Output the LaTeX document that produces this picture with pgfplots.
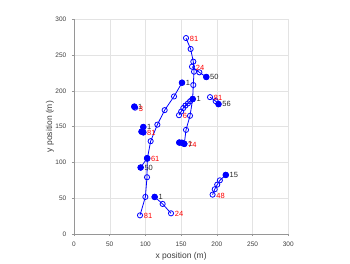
\documentclass[border=0pt]{standalone}
\usepackage{pgfplots}
\pgfplotsset{compat=1.18}
\usepackage{fontspec}
\setmainfont{Liberation Sans}
\definecolor{mblue}{RGB}{0,0,255}
\definecolor{mred}{RGB}{255,0,0}
\definecolor{axgray}{RGB}{150,150,150}
\definecolor{txgray}{RGB}{60,60,60}
\begin{document}
\begin{tikzpicture}
\useasboundingbox (-74pt,-29pt) rectangle (276pt,234pt);
\begin{axis}[
  at={(0pt,0pt)}, anchor=south west,
  scale only axis, width=214.3pt, height=214.7pt,
  xmin=0, xmax=300, ymin=0, ymax=300,
  xtick={0,50,...,300}, ytick={0,50,...,300},
  grid=major, grid style={color=black!11, line width=0.4pt},
  axis x line*=bottom, axis y line*=left,
  axis line style={color=axgray, line width=0.9pt, -},
  tick align=outside, major tick length=2.2pt,
  tick style={color=axgray, line width=0.5pt},
  /pgf/number format/assume math mode=true,
  ticklabel style={font=\fontsize{6.5}{7}\selectfont, text=txgray},
  xticklabel style={yshift=-2.5pt},
  yticklabel style={xshift=-2pt},
  xlabel={x position (m)}, ylabel={y position (m)},
  label style={font=\fontsize{8.5}{9}\selectfont, text=txgray},
  xlabel style={at={(axis description cs:0.5,-0.106)}, anchor=center},
  ylabel style={at={(axis description cs:-0.112,0.5)}, anchor=center, rotate=0},
  every axis plot/.append style={line width=0.8pt},
]
% --- tracks: lines with open circles ---
\addplot[mblue, mark=o, mark size=2.6pt] coordinates {
(151.2,211.4) (140,192.2) (126.9,173.1) (116.7,152.8) (107.3,129.7) (102.6,105) (102.2,79.3) (99.9,51.8) (92.4,26.1)};
\addplot[mblue, mark=o, mark size=2.6pt] coordinates {
(154.4,126) (156.8,145.5) (162.4,165.2) (166.1,188.5) (167,208.2) (168,226.8) (167,240.8) (163.3,258.5) (156.8,273.8)};
\addplot[mblue, mark=o, mark size=2.6pt] coordinates {
(166.2,188.8) (162.5,185.5) (159.5,182.5) (156,179.5) (153,176) (150,171) (147,166)};
\addplot[mblue, mark=o, mark size=2.6pt] coordinates {
(185.2,219.4) (175.5,225.9) (165.2,233.8)};
\addplot[mblue, mark=o, mark size=2.6pt] coordinates {
(202.3,181.5) (198.3,185.7) (190.4,191.2)};
\addplot[mblue, mark=o, mark size=2.6pt] coordinates {
(212.5,82.5) (204.2,75) (200.5,69) (197,62.5) (194,55)};
\addplot[mblue, mark=o, mark size=2.6pt] coordinates {
(112.9,51.8) (124.1,42) (135.8,28.9)};
\addplot[mblue, mark=o, mark size=2.6pt] coordinates {
(93.3,92.9) (102.4,106)};
\addplot[mblue, mark=o, mark size=2.6pt] coordinates {
(97,149.5) (94.5,143) (97,142)};
\addplot[mblue, mark=o, mark size=2.6pt] coordinates {
(84.4,178) (85.5,176.5)};
\addplot[mblue, mark=o, mark size=2.6pt] coordinates {
(147.4,127.8) (151,127.5) (154.4,126)};
% --- filled dots ---
\addplot[only marks, mark=*, mark size=2.8pt, mark options={fill=mblue, draw=mblue}] coordinates {
(151.2,211.4) (154.4,126) (166.1,188.5) (185.2,219.4) (202.3,181.5) (212.5,82.5) (112.9,51.8)
(93.3,92.9) (102.4,106) (97,149.5) (94.5,143) (97,142) (84.4,178) (147.4,127.8) (151,127.5)};
% --- start labels (black) ---
\addplot[draw=none, mark=none, nodes near coords, point meta=explicit symbolic,
  nodes near coords style={anchor=west, inner sep=0pt, xshift=3.5pt, yshift=0pt,
  font=\fontsize{7.5}{8}\selectfont, text=black!85}] table[meta=lab] {
x y lab
151.2 211.4 1
166.1 188.5 1
185.2 219.4 50
202.3 181.5 56
212.5 82.5 15
112.9 51.8 1
93.3 92.9 50
97 149.5 1
84.4 178 1
154.4 126 1
};
% --- end labels (red) ---
\addplot[draw=none, mark=none, nodes near coords, point meta=explicit symbolic,
  nodes near coords style={anchor=west, inner sep=0pt, xshift=3.5pt, yshift=-1pt,
  font=\fontsize{7.5}{8}\selectfont, text=mred}] table[meta=lab] {
x y lab
92.4 26.1 81
156.8 273.8 81
147 166 6
165.2 233.8 24
190.4 191.2 81
194 55 48
135.8 28.9 24
102.4 106 61
97 142 81
85.5 176.5 3
154.4 126 74
};
\end{axis}
\end{tikzpicture}
\end{document}
